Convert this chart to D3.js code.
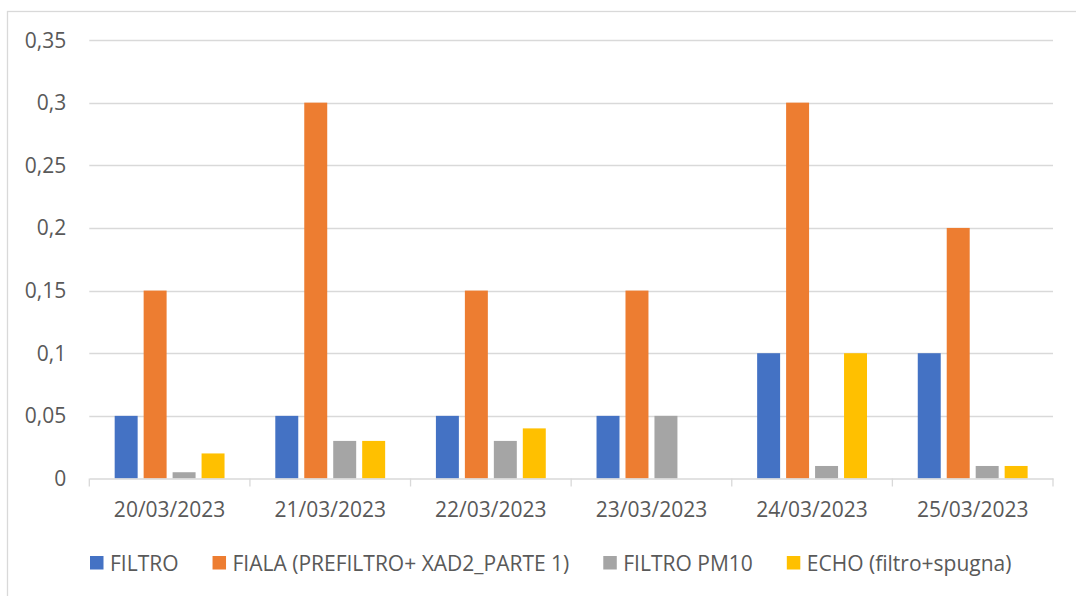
<!DOCTYPE html>
<html>
<head>
<meta charset="utf-8">
<script src="https://cdn.jsdelivr.net/npm/d3@7"></script>
<style>
  body { margin: 0; background: #fff; }
  text { font-family: "Open Sans", "Noto Sans", sans-serif; fill: #595959; }
</style>
</head>
<body>
<div id="chart"></div>
<script>
const categories = ['20/03/2023', '21/03/2023', '22/03/2023', '23/03/2023', '24/03/2023', '25/03/2023'];
const seriesNames = ['FILTRO', 'FIALA (PREFILTRO+ XAD2_PARTE 1)', 'FILTRO PM10', 'ECHO (filtro+spugna)'];
const filtro = [0.05, 0.05, 0.05, 0.05, 0.1, 0.1];
const fiala = [0.15, 0.3, 0.15, 0.15, 0.3, 0.2];
const filtroPm10 = [0.005, 0.03, 0.03, 0.05, 0.01, 0.01];
const echo = [0.02, 0.03, 0.04, null, 0.1, 0.01];
const yTicks = [0, 0.05, 0.1, 0.15, 0.2, 0.25, 0.3, 0.35];
const colors = ['#4472C4', '#ED7D31', '#A5A5A5', '#FFC000'];

const seriesValues = [filtro, fiala, filtroPm10, echo];
const data = categories.map((c, i) => ({
  category: c,
  values: seriesNames.map((s, k) => ({ key: s, value: seriesValues[k][i], k }))
}));

const width = 1076;
const height = 596;
const margin = { top: 40, right: 23, bottom: 117.5, left: 89.3 };
const innerW = width - margin.left - margin.right;
const innerH = height - margin.top - margin.bottom;

const svg = d3.select('#chart').append('svg')
  .attr('width', width)
  .attr('height', height);

// chart border
svg.append('rect')
  .attr('x', 7.5).attr('y', 11.5)
  .attr('width', 1100).attr('height', 600)
  .attr('fill', 'none')
  .attr('stroke', '#D9D9D9')
  .attr('stroke-width', 1.3);

const g = svg.append('g')
  .attr('transform', `translate(${margin.left},${margin.top})`);

const x0 = d3.scaleBand()
  .domain(categories)
  .range([0, innerW])
  .padding(0);

const groupPad = x0.bandwidth() * 0.158;
const x1 = d3.scaleBand()
  .domain(seriesNames)
  .range([groupPad, x0.bandwidth() - groupPad])
  .paddingInner(0.207);

const y = d3.scaleLinear()
  .domain([0, 0.35])
  .range([innerH, 0]);

const fmt = d => String(d).replace('.', ',');

// gridlines
g.append('g')
  .selectAll('line')
  .data(yTicks.filter(d => d > 0))
  .join('line')
  .attr('x1', 0).attr('x2', innerW)
  .attr('y1', d => Math.round(y(d)) + 0.5)
  .attr('y2', d => Math.round(y(d)) + 0.5)
  .attr('stroke', '#D9D9D9')
  .attr('stroke-width', 1.3);

// y labels
g.append('g')
  .selectAll('text')
  .data(yTicks)
  .join('text')
  .attr('x', -23)
  .attr('y', d => y(d) + 7.5)
  .attr('text-anchor', 'end')
  .style('font-size', '21px')
  .text(fmt);

// bars
const groups = g.append('g')
  .selectAll('g')
  .data(data)
  .join('g')
  .attr('transform', d => `translate(${x0(d.category)},0)`);

groups.selectAll('rect')
  .data(d => d.values.filter(v => v.value != null))
  .join('rect')
  .attr('x', d => x1(d.key))
  .attr('width', x1.bandwidth())
  .attr('y', d => y(d.value))
  .attr('height', d => innerH - y(d.value))
  .attr('fill', d => colors[d.k]);

// x axis
const xAxis = d3.axisBottom(x0).tickSize(0).tickSizeOuter(0);
const xg = g.append('g')
  .attr('transform', `translate(0,${innerH})`)
  .call(xAxis);
xg.select('.domain')
  .attr('stroke', '#D9D9D9')
  .attr('stroke-width', 1.3);
xg.selectAll('.tick text')
  .attr('dy', null)
  .attr('y', 38.5)
  .style('font-size', '21px')
  .style('font-family', '"Open Sans", "Noto Sans", sans-serif')
  .attr('fill', '#595959');

// category separator ticks
g.append('g')
  .selectAll('line')
  .data(categories.concat(['end']))
  .join('line')
  .attr('x1', (d, i) => i < categories.length ? x0(d) : innerW)
  .attr('x2', (d, i) => i < categories.length ? x0(d) : innerW)
  .attr('y1', innerH)
  .attr('y2', innerH + 8)
  .attr('stroke', '#D9D9D9')
  .attr('stroke-width', 1.3);

// legend
const legend = svg.append('g')
  .attr('transform', 'translate(90,556)');
let lx = 0;
seriesNames.forEach((name, k) => {
  const item = legend.append('g').attr('transform', `translate(${lx},0)`);
  item.append('rect')
    .attr('width', 13.5).attr('height', 13.5)
    .attr('fill', colors[k]);
  const t = item.append('text')
    .attr('x', 20)
    .attr('y', 14.5)
    .style('font-size', '21px')
    .text(name);
  lx += 20 + t.node().getComputedTextLength() + 34;
});
</script>
</body>
</html>
